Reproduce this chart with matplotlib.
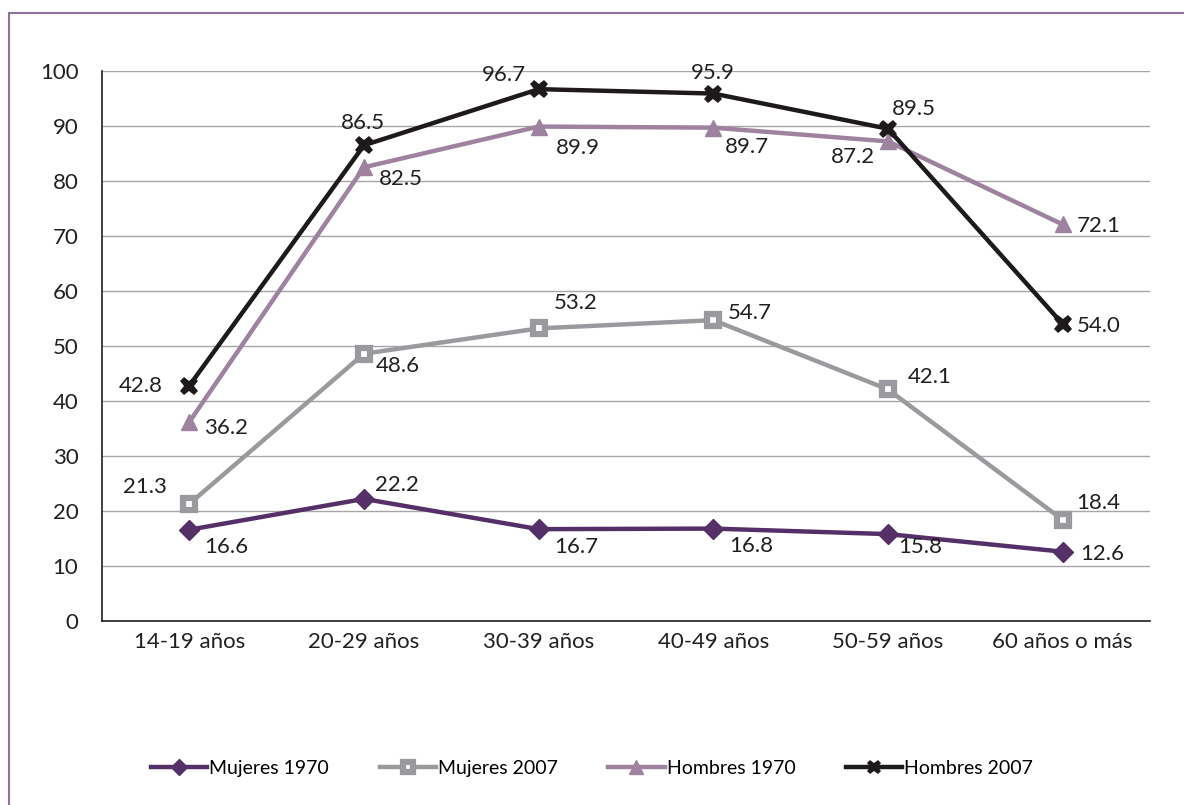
import matplotlib.pyplot as plt
from matplotlib.patches import Rectangle
import numpy as np

plt.rcParams['font.family'] = ['Lato', 'DejaVu Sans']

grupos = ['14-19 años', '20-29 años', '30-39 años', '40-49 años', '50-59 años', '60 años o más']
mujeres_1970 = [16.6, 22.2, 16.7, 16.8, 15.8, 12.6]
mujeres_2007 = [21.3, 48.6, 53.2, 54.7, 42.1, 18.4]
hombres_1970 = [36.2, 82.5, 89.9, 89.7, 87.2, 72.1]
hombres_2007 = [42.8, 86.5, 96.7, 95.9, 89.5, 54.0]

# label offsets in pixels for each point
off_m70 = [(37, -17), (33, 14), (38, -18), (38, -17), (32, -13), (40, -2)]
off_m07 = [(-44, 17), (34, -12), (37, 25), (36, 7), (42, 12), (36, 17)]
off_h70 = [(37, -6), (37, -12), (39, -21), (34, -19), (-35, -16), (36, -2)]
off_h07 = [(-49, 0), (-1, 22), (-35, 14), (-1, 21), (26, 20), (36, -2)]

fig = plt.figure(figsize=(11.84, 8.05), dpi=100)
ax = fig.add_axes([102/1184, 1-621/805, 1048/1184, 550/805])

# outer frame, open to the right and bottom
fig.patches.append(Rectangle((9/1184, -0.5), 1.5, 1.5-13/805, transform=fig.transFigure,
                             fill=False, edgecolor='#8e7099', linewidth=1.5))

x = np.arange(len(grupos))
series = [
    ('Mujeres 1970', mujeres_1970, off_m70, dict(color='#553068', marker='D', markersize=10,
                                                   markerfacecolor='#553068')),
    ('Mujeres 2007', mujeres_2007, off_m07, dict(color='#9a9a9e', marker='s', markersize=9,
                                                   markerfacecolor='white', markeredgewidth=4.5)),
    ('Hombres 1970', hombres_1970, off_h70, dict(color='#9e82a0', marker='^', markersize=12,
                                                   markerfacecolor='#9e82a0')),
    ('Hombres 2007', hombres_2007, off_h07, dict(color='#1e1a1c', marker='X', markersize=13,
                                                   markerfacecolor='#1e1a1c', markeredgewidth=0)),
]
for name, vals, offs, st in series:
    ax.plot(x, vals, linewidth=3.2, label=name, zorder=3, **st)
    for xi, v, (dx, dy) in zip(x, vals, offs):
        ax.annotate(f'{v:.1f}', (xi, v), xytext=(dx, dy), textcoords='offset pixels',
                    ha='center', va='center', fontsize=16, color='#231f20', zorder=4)

ax.set_xlim(-0.5, len(grupos) - 0.5)
ax.set_ylim(0, 100)
ax.set_yticks(range(0, 101, 10))
ax.set_xticks(x)
ax.set_xticklabels(grupos)
ax.grid(axis='y', color='#a6a6a6', linewidth=1)
ax.set_axisbelow(True)
for s in ['top', 'right']:
    ax.spines[s].set_visible(False)
for s in ['left', 'bottom']:
    ax.spines[s].set_color('#231f20')
    ax.spines[s].set_linewidth(1.2)
ax.tick_params(axis='both', length=0, labelsize=16, colors='#231f20')
ax.tick_params(axis='y', pad=17)
ax.tick_params(axis='x', pad=8)

fig.legend(loc='center', bbox_to_anchor=(0.5, 1-768/805), ncol=4, frameon=False,
           fontsize=14, handlelength=2.9, handletextpad=0.1, columnspacing=2.6,
           markerscale=0.8)

fig.savefig('out.png', dpi=100, facecolor='white')
